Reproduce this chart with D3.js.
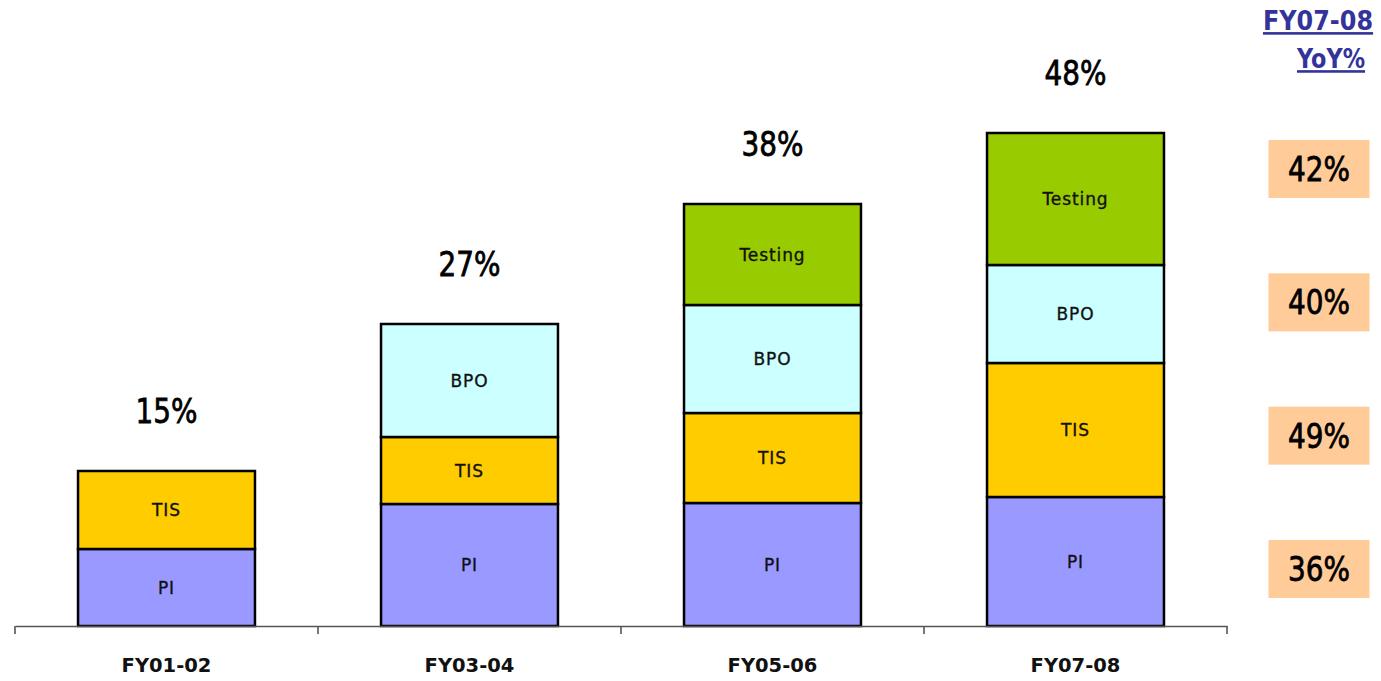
<!DOCTYPE html>
<html>
<head>
<meta charset="utf-8">
<script src="https://cdn.jsdelivr.net/npm/d3@7"></script>
<style>
  html, body { margin: 0; padding: 0; background: #ffffff; }
  svg { display: block; }
  text { font-family: "DejaVu Sans", Verdana, sans-serif; }
</style>
</head>
<body>
<svg id="chart" width="1381" height="681"></svg>
<script>
// Revenue mix by fiscal year, stacked by service line
const years = ["FY01-02", "FY03-04", "FY05-06", "FY07-08"];
const seriesNames = ["PI", "TIS", "BPO", "Testing"];
const piValues      = [77, 122, 123, 129];
const tisValues     = [78, 67, 90, 134];
const bpoValues     = [0, 113, 108, 98];
const testingValues = [0, 0, 101, 132];
const growthLabels  = ["15%", "27%", "38%", "48%"];

// FY07-08 year-on-year growth per service line
const yoyNames  = ["Testing", "BPO", "TIS", "PI"];
const yoyLabels = ["42%", "40%", "49%", "36%"];

const colors = {
  PI: "#9999FF",
  TIS: "#FFCC00",
  BPO: "#CCFFFF",
  Testing: "#99CC00"
};

const rows = years.map((yr, i) => ({
  year: yr,
  PI: piValues[i],
  TIS: tisValues[i],
  BPO: bpoValues[i],
  Testing: testingValues[i]
}));

const svg = d3.select("#chart");

const axisY = 626;
const x = d3.scaleBand()
  .domain(years)
  .range([15, 1227])
  .paddingInner(0.416)
  .paddingOuter(0.208);

const y = d3.scaleLinear()
  .domain([0, 500])
  .range([axisY, axisY - 500]);

const stack = d3.stack().keys(seriesNames);
const layers = stack(rows);

// Stacked bars
const layerG = svg.append("g")
  .selectAll("g")
  .data(layers)
  .join("g")
  .attr("fill", d => colors[d.key]);

layerG.selectAll("rect")
  .data(d => d.map(p => ({ key: d.key, p })))
  .join("rect")
  .filter(d => d.p[1] - d.p[0] > 0)
  .attr("x", d => x(d.p.data.year))
  .attr("y", d => y(d.p[1]))
  .attr("width", x.bandwidth())
  .attr("height", d => y(d.p[0]) - y(d.p[1]))
  .attr("stroke", "#000")
  .attr("stroke-width", 2.5);

// Segment labels
layerG.selectAll("text")
  .data(d => d.filter(p => p[1] - p[0] > 0).map(p => ({ key: d.key, p })))
  .join("text")
  .attr("x", d => x(d.p.data.year) + x.bandwidth() / 2)
  .attr("y", d => (y(d.p[0]) + y(d.p[1])) / 2)
  .attr("dy", "0.36em")
  .attr("text-anchor", "middle")
  .attr("fill", "#111")
  .attr("stroke", "#111")
  .attr("stroke-width", 0.35)
  .attr("font-size", 17)
  .attr("letter-spacing", "0.9px")
  .text(d => d.key);

// Axis: baseline with ticks at the category boundaries
const axisG = svg.append("g")
  .attr("transform", `translate(0,${axisY})`)
  .call(d3.axisBottom(x).tickSize(0).tickPadding(32));
axisG.select(".domain")
  .attr("stroke", "#555")
  .attr("stroke-width", 1.6);
axisG.selectAll(".tick text")
  .attr("font-family", "DejaVu Sans, Verdana, sans-serif")
  .attr("font-size", 19.5)
  .attr("font-weight", "bold")
  .attr("fill", "#111")
  .attr("dy", "0.72em");

const step = x.step();
const boundaries = d3.range(years.length + 1).map(i => x.range()[0] + i * step);
axisG.selectAll("line.boundary")
  .data(boundaries)
  .join("line")
  .attr("class", "boundary")
  .attr("x1", d => d)
  .attr("x2", d => d)
  .attr("y1", 0)
  .attr("y2", 8)
  .attr("stroke", "#555")
  .attr("stroke-width", 1.6);

// Growth labels above each bar
const totals = rows.map(r => d3.sum(seriesNames, k => r[k]));
svg.append("g")
  .selectAll("text")
  .data(years)
  .join("text")
  .attr("transform", (d, i) =>
    `translate(${x(d) + x.bandwidth() / 2},${y(totals[i]) - 48}) scale(0.82,1)`)
  .attr("text-anchor", "middle")
  .attr("font-size", 34)
  .attr("fill", "#000")
  .attr("stroke", "#000")
  .attr("stroke-width", 0.8)
  .text((d, i) => growthLabels[i]);

// Header for the YoY column
const header = svg.append("g").attr("fill", "#333399");
header.append("text")
  .attr("transform", "translate(1318,30) scale(0.92,1)")
  .attr("text-anchor", "middle")
  .attr("font-size", 26)
  .attr("font-weight", "bold")
  .attr("text-decoration", "underline")
  .text("FY07-08");
header.append("text")
  .attr("transform", "translate(1331,68) scale(0.86,1)")
  .attr("text-anchor", "middle")
  .attr("font-size", 26)
  .attr("font-weight", "bold")
  .attr("text-decoration", "underline")
  .text("YoY%");

// YoY boxes
const yy = d3.scalePoint().domain(yoyNames).range([169, 569]);
const boxW = 101, boxH = 58, boxCx = 1319;
const boxes = svg.append("g")
  .selectAll("g")
  .data(yoyNames)
  .join("g")
  .attr("transform", d => `translate(${boxCx},${yy(d)})`);
boxes.append("rect")
  .attr("x", -boxW / 2)
  .attr("y", -boxH / 2)
  .attr("width", boxW)
  .attr("height", boxH)
  .attr("fill", "#FFCC99");
boxes.append("text")
  .attr("transform", "translate(0,12) scale(0.82,1)")
  .attr("text-anchor", "middle")
  .attr("font-size", 34)
  .attr("fill", "#000")
  .attr("stroke", "#000")
  .attr("stroke-width", 0.8)
  .text((d, i) => yoyLabels[i]);
</script>
</body>
</html>
